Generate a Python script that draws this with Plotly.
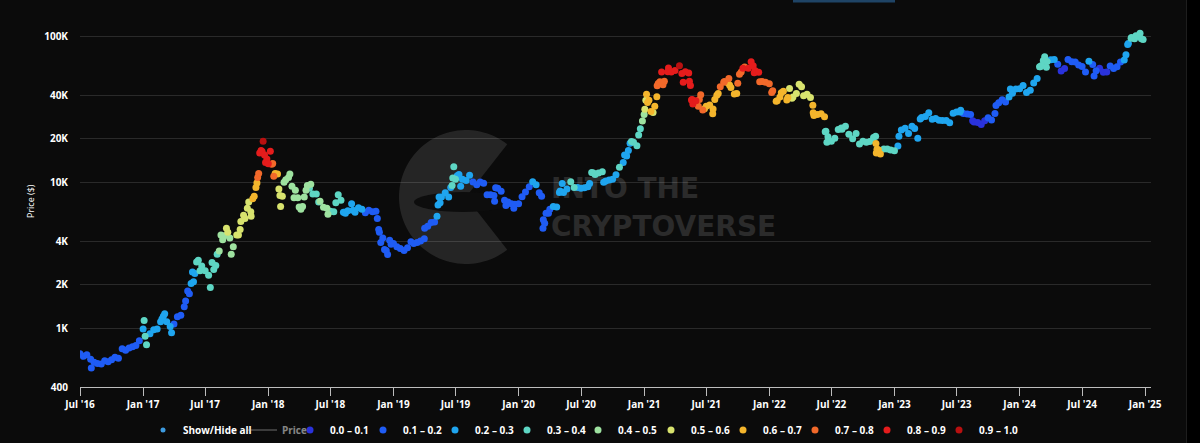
import numpy as np
import plotly.graph_objects as go

# ---------------- data ----------------
d16 = ["2016-07-01","2016-07-11","2016-07-21","2016-08-01","2016-08-03","2016-08-11","2016-08-21",
       "2016-09-01","2016-09-11","2016-09-21","2016-10-01","2016-10-11","2016-10-21","2016-11-01",
       "2016-11-11","2016-11-21","2016-12-01","2016-12-11","2016-12-21"]
p16 = [675,650,665,620,540,590,580,575,605,595,615,640,630,730,715,740,755,770,830]
r16 = [0.17,0.16,0.16,0.14,0.10,0.12,0.11,0.10,0.11,0.10,0.11,0.12,0.12,0.14,0.13,0.14,0.14,0.15,0.17]

d17 = ["2017-01-01","2017-01-04","2017-01-11","2017-01-21","2017-02-01","2017-02-11","2017-02-21",
       "2017-03-01","2017-03-11","2017-03-21","2017-04-01","2017-04-11","2017-04-21","2017-05-01",
       "2017-05-11","2017-05-21","2017-06-01","2017-06-11","2017-06-21","2017-07-01","2017-07-11",
       "2017-07-16","2017-07-21","2017-08-01","2017-08-11","2017-08-21","2017-09-01","2017-09-11",
       "2017-09-15","2017-09-21","2017-10-01","2017-10-11","2017-10-21","2017-11-01","2017-11-11",
       "2017-11-21","2017-12-01","2017-12-07","2017-12-11","2017-12-17","2017-12-21"]
p17 = [1000,1140,780,925,985,1000,1120,1220,1120,1040,1080,1210,1240,1420,1820,2050,2400,2950,2700,
       2500,2330,1920,2850,2720,3420,4080,4900,4200,3250,3650,4400,4800,6000,6700,6350,8100,10900,
       16000,16700,19300,15500]
r17 = [0.27,0.33,0.31,0.28,0.24,0.23,0.24,0.25,0.24,0.26,0.19,0.17,0.16,0.17,0.19,0.22,0.26,0.33,
       0.32,0.32,0.33,0.34,0.36,0.37,0.42,0.46,0.50,0.49,0.47,0.48,0.51,0.53,0.55,0.56,0.55,0.62,
       0.71,0.82,0.85,0.93,0.86]

d18 = ["2018-01-01","2018-01-07","2018-01-11","2018-01-17","2018-01-21","2018-02-01","2018-02-06",
       "2018-02-11","2018-02-21","2018-03-01","2018-03-11","2018-03-21","2018-04-01","2018-04-11",
       "2018-04-21","2018-05-01","2018-05-11","2018-05-21","2018-06-01","2018-06-11","2018-06-21",
       "2018-07-01","2018-07-11","2018-07-24","2018-08-01","2018-08-11","2018-08-21","2018-09-01",
       "2018-09-11","2018-09-21","2018-10-01","2018-10-11","2018-10-21","2018-11-01","2018-11-11",
       "2018-11-21","2018-12-01","2018-12-11","2018-12-15","2018-12-21"]
p18 = [13500,16500,13400,11100,11600,9100,6900,8100,10500,10900,9500,8900,6850,6900,8900,9200,8400,
       8400,7500,6800,6700,6400,6350,8300,7600,6300,6450,7200,6300,6750,6600,6250,6500,6350,6400,
       4600,4200,3450,3230,4050]
r18 = [0.82,0.86,0.78,0.70,0.62,0.55,0.52,0.50,0.46,0.45,0.43,0.44,0.45,0.43,0.40,0.38,0.36,0.36,
       0.40,0.44,0.42,0.36,0.34,0.33,0.30,0.26,0.26,0.25,0.22,0.23,0.21,0.19,0.18,0.17,0.17,0.13,
       0.12,0.11,0.11,0.13]

d19 = ["2019-01-01","2019-01-11","2019-01-21","2019-02-01","2019-02-11","2019-02-21","2019-03-01",
       "2019-03-11","2019-03-21","2019-04-01","2019-04-11","2019-04-21","2019-05-01","2019-05-11",
       "2019-05-21","2019-06-01","2019-06-11","2019-06-21","2019-06-26","2019-07-01","2019-07-11",
       "2019-07-21","2019-08-01","2019-08-11","2019-08-21","2019-09-01","2019-09-11","2019-09-21",
       "2019-10-01","2019-10-11","2019-10-21","2019-10-26","2019-11-01","2019-11-11","2019-11-21",
       "2019-12-01","2019-12-11","2019-12-21"]
p19 = [3850,3650,3550,3450,3600,3950,3850,3900,4000,4150,5050,5350,5400,7050,8000,8550,8000,9600,
       12900,10600,11400,10600,10400,11300,10150,9700,10150,9950,8300,8300,8200,9250,9200,8750,7600,
       7400,7200,7150]
r19 = [0.13,0.13,0.12,0.12,0.13,0.14,0.14,0.14,0.15,0.16,0.18,0.19,0.19,0.22,0.25,0.26,0.25,0.30,
       0.36,0.30,0.27,0.25,0.20,0.20,0.17,0.16,0.17,0.16,0.14,0.14,0.14,0.16,0.16,0.15,0.13,0.13,
       0.13,0.13]

d20 = ["2020-01-01","2020-01-11","2020-01-21","2020-02-01","2020-02-11","2020-02-21","2020-03-01",
       "2020-03-12","2020-03-21","2020-04-01","2020-04-11","2020-04-21","2020-05-01","2020-05-11",
       "2020-05-21","2020-06-01","2020-06-11","2020-06-21","2020-07-01","2020-07-11","2020-07-21",
       "2020-08-01","2020-08-11","2020-08-21","2020-09-01","2020-09-11","2020-09-21","2020-10-01",
       "2020-10-11","2020-10-21","2020-11-01","2020-11-11","2020-11-21","2020-12-01","2020-12-11",
       "2020-12-21"]
p20 = [7200,8050,8650,9400,10200,9700,8550,4900,6200,6600,6900,6850,8800,8600,9100,10200,9300,9300,
       9200,9250,9400,11800,11400,11700,11900,10300,10450,10600,11350,12800,13800,15300,18700,19000,
       18000,23500]
r20 = [0.14,0.16,0.18,0.19,0.21,0.20,0.17,0.14,0.17,0.19,0.21,0.22,0.26,0.25,0.27,0.34,0.30,0.28,
       0.25,0.24,0.26,0.34,0.32,0.33,0.33,0.29,0.28,0.27,0.28,0.30,0.28,0.27,0.29,0.33,0.32,0.36]

d21 = ["2021-01-01","2021-01-08","2021-01-11","2021-01-21","2021-02-01","2021-02-11","2021-02-21",
       "2021-03-01","2021-03-11","2021-03-21","2021-04-01","2021-04-14","2021-04-21","2021-05-01",
       "2021-05-11","2021-05-19","2021-05-21","2021-06-01","2021-06-11","2021-06-21","2021-07-01",
       "2021-07-11","2021-07-21","2021-08-01","2021-08-11","2021-08-21","2021-09-01","2021-09-07",
       "2021-09-11","2021-09-21","2021-10-01","2021-10-11","2021-10-21","2021-11-01","2021-11-09",
       "2021-11-21","2021-12-01","2021-12-11","2021-12-21"]
p21 = [29400,40500,35500,30800,33500,47900,57500,49600,57800,57400,58800,63500,56200,57800,56500,
       37000,37300,36600,37300,31600,33500,34200,32100,39900,45600,48900,48800,46900,45100,40600,
       48200,57500,62200,61000,67500,58600,57200,49400,48900]
r21 = [0.48,0.63,0.62,0.60,0.63,0.74,0.80,0.78,0.86,0.83,0.84,0.91,0.84,0.85,0.86,0.82,0.82,0.81,
       0.79,0.73,0.68,0.66,0.63,0.67,0.72,0.70,0.66,0.65,0.64,0.66,0.70,0.76,0.79,0.81,0.86,0.82,
       0.80,0.77,0.76]

d22 = ["2022-01-01","2022-01-11","2022-01-21","2022-02-01","2022-02-11","2022-02-21","2022-03-01",
       "2022-03-11","2022-03-21","2022-03-29","2022-04-11","2022-04-21","2022-05-01","2022-05-11",
       "2022-05-21","2022-06-01","2022-06-11","2022-06-18","2022-06-21","2022-07-01","2022-07-11",
       "2022-07-21","2022-08-01","2022-08-11","2022-08-21","2022-09-01","2022-09-11","2022-09-21",
       "2022-10-01","2022-10-11","2022-10-21","2022-11-01","2022-11-09","2022-11-11","2022-11-21",
       "2022-12-01","2022-12-11","2022-12-21"]
p22 = [47700,42700,36300,38700,42400,37000,44400,38800,41000,47400,39500,40500,38400,29000,29400,
       29800,28400,19000,20700,19300,20200,23200,23300,24400,21500,20100,21800,18500,19300,19000,
       19200,20500,16000,17000,15800,17100,17100,16800]
r22 = [0.74,0.72,0.68,0.64,0.63,0.62,0.58,0.57,0.55,0.55,0.55,0.54,0.56,0.62,0.63,0.63,0.62,0.36,
       0.36,0.35,0.35,0.36,0.36,0.37,0.35,0.34,0.34,0.33,0.33,0.33,0.33,0.34,0.63,0.64,0.65,0.35,
       0.32,0.32]

d23 = ["2023-01-01","2023-01-11","2023-01-21","2023-02-01","2023-02-11","2023-02-21","2023-03-01",
       "2023-03-10","2023-03-21","2023-04-01","2023-04-11","2023-04-21","2023-05-01","2023-05-11",
       "2023-05-21","2023-06-01","2023-06-11","2023-06-21","2023-07-01","2023-07-11","2023-07-21",
       "2023-08-01","2023-08-11","2023-08-21","2023-09-01","2023-09-11","2023-09-21","2023-10-01",
       "2023-10-11","2023-10-21","2023-11-01","2023-11-11","2023-11-21","2023-12-01","2023-12-11",
       "2023-12-21"]
p23 = [16600,17900,23000,23700,21800,24400,23600,20200,28100,28500,30200,27300,27600,26900,26800,
       26800,25800,30000,30600,30600,29900,29700,29400,26100,25900,25100,26600,27900,27000,29900,
       35400,37100,35800,38700,41200,43900]
r23 = [0.30,0.27,0.24,0.24,0.23,0.24,0.24,0.22,0.25,0.24,0.25,0.23,0.22,0.22,0.22,0.21,0.20,0.23,
       0.22,0.20,0.18,0.14,0.12,0.08,0.07,0.06,0.08,0.10,0.10,0.12,0.15,0.17,0.16,0.20,0.24,0.27]

d24 = ["2024-01-01","2024-01-11","2024-01-21","2024-02-01","2024-02-11","2024-02-21","2024-03-01",
       "2024-03-14","2024-03-21","2024-04-01","2024-04-11","2024-04-21","2024-05-01","2024-05-11",
       "2024-05-21","2024-06-01","2024-06-11","2024-06-21","2024-07-01","2024-07-11","2024-07-21",
       "2024-08-01","2024-08-05","2024-08-11","2024-08-21","2024-09-01","2024-09-11","2024-09-21",
       "2024-10-01","2024-10-11","2024-10-21","2024-11-01","2024-11-11","2024-11-21","2024-12-01",
       "2024-12-05","2024-12-11","2024-12-17","2024-12-21","2024-12-26"]
p24 = [44200,46400,41600,43100,48300,51800,62400,73100,67800,69700,70000,64900,58300,60800,70100,
       67700,67300,64100,62700,57400,68200,64600,54000,58700,61100,57300,57600,63300,60800,62400,
       67400,69500,88700,98000,97200,102000,101200,106000,97300,96000]
r24 = [0.28,0.29,0.25,0.24,0.26,0.27,0.31,0.36,0.33,0.26,0.22,0.14,0.08,0.09,0.15,0.13,0.11,0.12,
       0.14,0.15,0.20,0.19,0.12,0.14,0.09,0.08,0.08,0.14,0.13,0.15,0.18,0.20,0.27,0.31,0.32,0.35,
       0.34,0.37,0.34,0.33]

# extra readings on the steep moves
dx = ["2017-01-07","2017-02-25","2017-03-05","2017-03-25","2017-05-05","2017-05-16","2017-05-25",
      "2017-05-28","2017-06-06","2017-06-16","2017-07-26","2017-08-05","2017-08-16","2017-08-26",
      "2017-09-05","2017-10-06","2017-10-13","2017-10-25","2017-11-05","2017-11-12","2017-11-17",
      "2017-11-26","2017-11-29","2017-12-04","2017-12-14","2017-12-24","2017-12-28",
      "2018-01-14","2018-01-28","2018-02-04","2018-02-16","2018-03-05","2018-03-17","2018-03-28",
      "2018-04-06","2018-04-16","2018-04-25","2018-05-05","2018-05-28","2018-06-24","2018-07-17",
      "2018-08-08","2018-08-14","2018-09-05","2018-11-15","2018-11-19","2018-11-25","2018-12-06",
      "2018-12-25",
      "2019-04-02","2019-05-08","2019-05-14","2019-05-17","2019-06-17","2019-06-23","2019-07-06",
      "2019-07-16","2019-10-23","2019-11-25","2019-12-18",
      "2020-03-08","2020-03-13","2020-03-17","2020-03-28","2020-04-29","2020-05-07","2020-07-26",
      "2020-08-06","2020-09-05","2020-11-05","2020-11-16","2020-11-25","2020-12-16","2020-12-27",
      "2021-01-03","2021-01-06","2021-01-15","2021-01-27","2021-02-07","2021-02-08","2021-02-16",
      "2021-02-25","2021-03-13","2021-04-25","2021-05-13","2021-05-16","2021-05-23","2021-06-08",
      "2021-06-15","2021-06-26","2021-07-20","2021-07-26","2021-08-05","2021-08-23","2021-09-05",
      "2021-09-28","2021-10-06","2021-10-16","2021-11-15","2021-11-18","2021-12-04",
      "2022-01-08","2022-01-24","2022-02-05","2022-02-24","2022-03-08","2022-04-05","2022-05-08",
      "2022-05-09","2022-06-13","2022-06-15","2022-07-30","2022-11-07","2022-11-08","2022-11-15",
      "2023-01-14","2023-03-17","2023-07-13","2023-08-17","2023-10-24","2023-12-05",
      "2024-02-28","2024-03-05","2024-03-10","2024-03-19","2024-11-06","2024-11-13","2024-11-22"]
px_ = [890,1170,1270,940,1550,1740,2450,2100,2870,2500,2550,3250,4400,4350,4600,4400,5450,5700,
       7400,5900,7800,9300,10000,11600,16400,13800,14600,
       13600,11500,8200,10100,11500,7900,7900,6600,8000,9600,9800,7400,6100,7300,6300,6200,6500,
       5700,4800,3900,3500,3800,
       4900,5900,8000,7300,9300,10800,11200,9500,7500,7000,6700,
       8100,5600,5300,6200,8600,9900,9900,11700,10100,15500,16700,19200,21300,26500,
       32000,36800,36800,30400,38900,46200,49200,47000,61200,49000,49700,46400,34700,33500,40200,
       32200,29800,37300,40900,49500,51800,41000,55400,60900,63500,56900,49200,
       41600,36600,41400,38400,38000,45600,34000,30200,22400,22600,23800,20900,18600,16900,
       20900,27400,31400,26600,33900,44000,
       62500,63800,69000,62000,75600,90000,99000]
rx = [0.31,0.23,0.25,0.23,0.17,0.19,0.26,0.24,0.31,0.31,0.34,0.39,0.46,0.46,0.50,0.51,0.54,0.55,
      0.59,0.54,0.62,0.66,0.69,0.75,0.87,0.82,0.83,
      0.77,0.66,0.55,0.48,0.47,0.43,0.42,0.40,0.40,0.41,0.40,0.38,0.41,0.33,0.27,0.26,0.24,
      0.15,0.13,0.11,0.11,0.12,
      0.17,0.20,0.26,0.24,0.29,0.32,0.29,0.25,0.13,0.12,0.12,
      0.16,0.13,0.13,0.15,0.24,0.27,0.28,0.32,0.27,0.28,0.28,0.33,0.36,0.42,
      0.52,0.58,0.61,0.59,0.67,0.73,0.77,0.78,0.87,0.82,0.83,0.82,0.80,0.75,0.78,0.69,0.62,0.66,
      0.69,0.70,0.70,0.63,0.75,0.80,0.84,0.81,0.78,
      0.71,0.67,0.64,0.61,0.57,0.56,0.60,0.62,0.38,0.37,0.37,0.35,0.60,0.64,
      0.26,0.25,0.22,0.09,0.14,0.25,
      0.31,0.32,0.35,0.30,0.23,0.28,0.33]

bin_labels = ["0.0 – 0.1", "0.1 – 0.2", "0.2 – 0.3", "0.3 – 0.4", "0.4 – 0.5",
              "0.5 – 0.6", "0.6 – 0.7", "0.7 – 0.8", "0.8 – 0.9", "0.9 – 1.0"]
bin_colors = ["#2a32dc", "#1f5cf5", "#1fa5ef", "#5ed6c4", "#9ee2a0",
              "#d8e36e", "#f4b52c", "#f2692a", "#e51c1c", "#b81010"]

x_tick_vals = ["2016-07-01", "2017-01-01", "2017-07-01", "2018-01-01", "2018-07-01", "2019-01-01",
               "2019-07-01", "2020-01-01", "2020-07-01", "2021-01-01", "2021-07-01", "2022-01-01",
               "2022-07-01", "2023-01-01", "2023-07-01", "2024-01-01", "2024-07-01", "2025-01-01"]
x_tick_text = ["Jul '16", "Jan '17", "Jul '17", "Jan '18", "Jul '18", "Jan '19", "Jul '19", "Jan '20",
               "Jul '20", "Jan '21", "Jul '21", "Jan '22", "Jul '22", "Jan '23", "Jul '23", "Jan '24",
               "Jul '24", "Jan '25"]
y_tick_vals = [400, 1000, 2000, 4000, 10000, 20000, 40000, 100000]
y_tick_text = ["400", "1K", "2K", "4K", "10K", "20K", "40K", "100K"]

dates = d16 + d17 + d18 + d19 + d20 + d21 + d22 + d23 + d24 + dx
prices = p16 + p17 + p18 + p19 + p20 + p21 + p22 + p23 + p24 + px_
risks = r16 + r17 + r18 + r19 + r20 + r21 + r22 + r23 + r24 + rx
assert len(dates) == len(prices) == len(risks)
order = np.argsort(np.array(dates))
darr = np.array(dates)[order]
parr = np.array(prices, dtype=float)[order]
rarr = np.array(risks, dtype=float)[order]

# ---------------- figure ----------------
BG = "#0b0b0b"
FONT = "Open Sans"
L, T, W, H = 80, 15, 1071, 372


def px(x):
    return (x - L) / W


def py(y):
    return (T + H - y) / H


# legend symbol centres (pixels) for each entry, left to right
legend_symbol_x = [163, 262, 310, 383, 455, 527, 598, 671, 743, 815, 887, 959]
LEG_Y = 430

legend_font = dict(family=FONT, size=10, color="#ffffff", weight="bold")
legend_layouts = {}
for i, sx in enumerate(legend_symbol_x):
    key = "legend" if i == 0 else f"legend{i + 1}"
    legend_layouts[key] = dict(orientation="h", x=px(sx - 20), xanchor="left", y=py(LEG_Y),
                               yanchor="middle", bgcolor="rgba(0,0,0,0)", borderwidth=0,
                               font=legend_font, itemwidth=30)
leg_ids = ["legend" if i == 0 else f"legend{i + 1}" for i in range(12)]

fig = go.Figure()

fig.add_trace(go.Scatter(x=[None], y=[None], mode="markers", name="Show/Hide all",
                         marker=dict(color="#3d9be0", size=5), legend=leg_ids[0]))
fig.add_trace(go.Scatter(x=darr, y=parr, mode="lines", name="Price",
                         line=dict(color="#d0d0d0", width=1), visible="legendonly",
                         legend=leg_ids[1]))

bins = np.clip(np.floor(rarr * 10 + 1e-9).astype(int), 0, 9)
for b in range(10):
    m = bins == b
    fig.add_trace(go.Scatter(x=darr[m], y=parr[m], mode="markers", name=bin_labels[b],
                             marker=dict(color=bin_colors[b], size=7, line=dict(width=0)),
                             legend=leg_ids[b + 2]))

# watermark logo (decoration)
cx, cy, R = 466, 197, 67
angs = np.radians(np.linspace(52, 308, 80))
path = f"M {px(cx)},{py(cy)} " + " ".join(
    f"L {px(cx + R * np.cos(a))},{py(cy - R * np.sin(a))}" for a in angs) + " Z"

shapes = [
    dict(type="path", path=path, xref="paper", yref="paper", fillcolor="#252525",
         line=dict(width=0), layer="below"),
    dict(type="circle", xref="paper", yref="paper", x0=px(414), x1=px(512), y0=py(212), y1=py(192),
         fillcolor="#0d0d0d", line=dict(width=0), layer="below"),
    dict(type="rect", xref="paper", yref="paper", x0=px(548), x1=px(820), y0=py(203), y1=py(169),
         fillcolor="rgba(0,0,0,0)", line=dict(width=0), layer="below",
         label=dict(text="INTO THE", textposition="middle left", padding=0,
                    font=dict(family="DejaVu Sans", size=28, color="#2b2b2b", weight="bold"))),
    dict(type="rect", xref="paper", yref="paper", x0=px(548), x1=px(820), y0=py(241), y1=py(207),
         fillcolor="rgba(0,0,0,0)", line=dict(width=0), layer="below",
         label=dict(text="CRYPTOVERSE", textposition="middle left", padding=0,
                    font=dict(family="DejaVu Sans", size=28, color="#2b2b2b", weight="bold"))),
    # thin blue bar at the very top and dark right strip
    dict(type="rect", xref="paper", yref="paper", x0=px(793), x1=px(895), y0=py(2.5), y1=py(0),
         fillcolor="#1f4466", line=dict(width=0), layer="above"),
    dict(type="rect", xref="paper", yref="paper", x0=px(1187), x1=px(1201), y0=py(444), y1=py(-1),
         fillcolor="#000000", line=dict(width=0), layer="above"),
    dict(type="line", xref="paper", yref="paper", x0=px(1186.5), x1=px(1186.5), y0=py(444), y1=py(-1),
         line=dict(color="#1e1e1e", width=1), layer="above"),
]

fig.update_layout(
    template="none",
    width=1200, height=443,
    margin=dict(l=L, r=1200 - L - W, t=T, b=443 - T - H, autoexpand=False),
    paper_bgcolor=BG, plot_bgcolor=BG,
    font=dict(family=FONT, color="#ffffff", size=10),
    shapes=shapes,
    showlegend=True,
    annotations=[dict(text="Price ($)", xref="paper", yref="paper", x=px(30), y=py(201),
                      textangle=-90, showarrow=False, xanchor="center", yanchor="middle",
                      font=dict(family=FONT, size=9, color="#ffffff"))],
    hovermode=False,
    **legend_layouts,
)

fig.update_xaxes(
    type="date", range=["2016-07-01", "2025-01-18"], automargin=False,
    tickmode="array", tickvals=x_tick_vals, ticktext=x_tick_text,
    showgrid=False, zeroline=False,
    showline=True, linecolor="#bdbdbd", linewidth=1,
    ticks="outside", ticklen=8, tickcolor="#bdbdbd", tickwidth=1,
    tickfont=dict(family=FONT, size=10, color="#ffffff", weight="bold"),
)
fig.update_yaxes(
    type="log", range=[np.log10(400), 5.15], automargin=False,
    tickmode="array", tickvals=y_tick_vals, ticktext=y_tick_text,
    showgrid=True, gridcolor="rgba(255,255,255,0.13)", gridwidth=1,
    zeroline=False, showline=False, ticks="", ticklabelstandoff=11,
    tickfont=dict(family=FONT, size=10, color="#ffffff", weight="bold"),
)

fig.write_html("out.html", config={"displayModeBar": False},
               post_script="document.body.style.margin='0px';document.body.style.overflow='hidden';")
